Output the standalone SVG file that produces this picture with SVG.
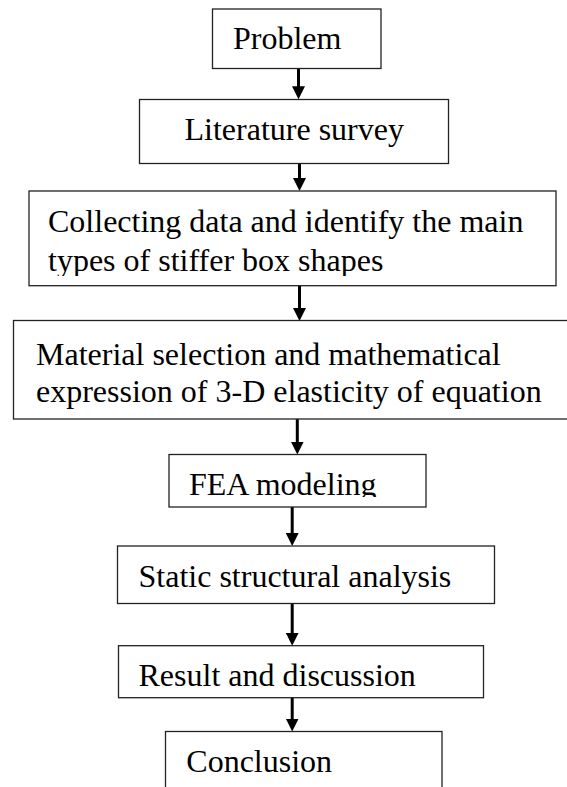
<svg xmlns="http://www.w3.org/2000/svg" width="567" height="787" viewBox="0 0 567 787">
<style>
.box{fill:#fff;stroke:#222;stroke-width:1.3}
.t{font-family:"Liberation Serif","Times New Roman",serif;font-size:32px;fill:#000}
.c{stroke:#000;stroke-width:3;fill:none;marker-end:url(#ah)}
</style>
<defs>
<marker id="ah" markerWidth="13" markerHeight="13" refX="3" refY="6.5" orient="auto" markerUnits="userSpaceOnUse" viewBox="0 0 13 13">
<path d="M0,0 L13,6.5 L0,13 Z" fill="#000"/>
</marker>
<clipPath id="clipTypes"><rect x="0" y="191" width="567" height="85"/></clipPath>
<clipPath id="clipFea"><rect x="0" y="454" width="567" height="43"/></clipPath>
</defs>
<rect width="567" height="787" fill="#fff"/>
<g id="connectors">
<line class="c" x1="298.5" y1="68.5" x2="298.5" y2="89.3"/>
<line class="c" x1="299.5" y1="163.5" x2="299.5" y2="181"/>
<line class="c" x1="299.5" y1="285.7" x2="299.5" y2="311"/>
<line class="c" x1="297.3" y1="419" x2="297.3" y2="444.5"/>
<line class="c" x1="292.2" y1="507" x2="292.2" y2="536"/>
<line class="c" x1="292.2" y1="603.5" x2="292.2" y2="635.7"/>
<line class="c" x1="292.2" y1="697.7" x2="292.2" y2="721.5"/>
</g>
<g id="problem">
<rect class="box" x="212.5" y="9" width="168.5" height="59.5"/>
<text class="t" x="233" y="49">Problem</text>
</g>
<g id="literature">
<rect class="box" x="139.5" y="99.5" width="309" height="64"/>
<text class="t" x="184.5" y="140">Literature survey</text>
</g>
<g id="collecting">
<rect class="box" x="29" y="191" width="527" height="94.7"/>
<text class="t" x="48" y="231.5">Collecting data and identify the main</text>
<text class="t" x="48" y="270.5" clip-path="url(#clipTypes)">types of stiffer box shapes</text>
</g>
<g id="material">
<rect class="box" x="13.5" y="320.5" width="560" height="98.5"/>
<text class="t" x="36" y="365">Material selection and mathematical</text>
<text class="t" x="36" y="401.5">expression of 3-D elasticity of equation</text>
</g>
<g id="fea">
<rect class="box" x="169" y="454.5" width="257" height="52.5"/>
<text class="t" x="189" y="495" clip-path="url(#clipFea)">FEA modeling</text>
</g>
<g id="static">
<rect class="box" x="117.5" y="546" width="377" height="57.5"/>
<text class="t" x="138.5" y="586.5">Static structural analysis</text>
</g>
<g id="result">
<rect class="box" x="118.5" y="645.7" width="365" height="52"/>
<text class="t" x="138.5" y="686">Result and discussion</text>
</g>
<g id="conclusion">
<rect class="box" x="165.5" y="731.5" width="276.5" height="70"/>
<text class="t" x="186.3" y="771.5">Conclusion</text>
</g>
</svg>
